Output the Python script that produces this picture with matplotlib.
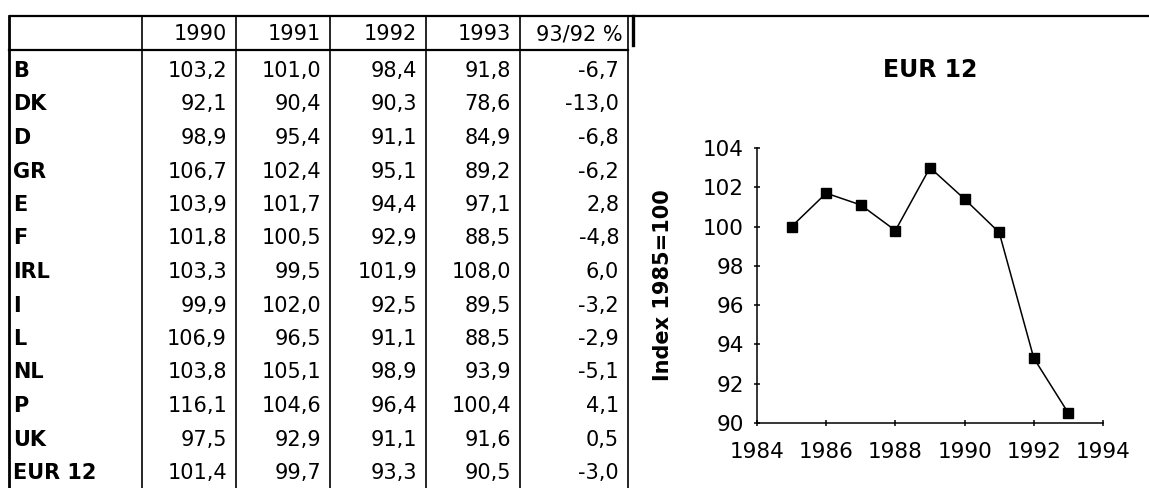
import numpy as np
import matplotlib
matplotlib.use("Agg")
import matplotlib.pyplot as plt

plt.rcParams['font.family'] = ['DejaVu Sans']

# table data
countries = ['B', 'DK', 'D', 'GR', 'E', 'F', 'IRL', 'I', 'L', 'NL', 'P', 'UK', 'EUR 12']
headers = ['1990', '1991', '1992', '1993', '93/92 %']
v1990 = [103.2, 92.1, 98.9, 106.7, 103.9, 101.8, 103.3, 99.9, 106.9, 103.8, 116.1, 97.5, 101.4]
v1991 = [101.0, 90.4, 95.4, 102.4, 101.7, 100.5, 99.5, 102.0, 96.5, 105.1, 104.6, 92.9, 99.7]
v1992 = [98.4, 90.3, 91.1, 95.1, 94.4, 92.9, 101.9, 92.5, 91.1, 98.9, 96.4, 91.1, 93.3]
v1993 = [91.8, 78.6, 84.9, 89.2, 97.1, 88.5, 108.0, 89.5, 88.5, 93.9, 100.4, 91.6, 90.5]
chg = [-6.7, -13.0, -6.8, -6.2, 2.8, -4.8, 6.0, -3.2, -2.9, -5.1, 4.1, 0.5, -3.0]

# chart data (EUR 12, index 1985=100)
years = [1985, 1986, 1987, 1988, 1989, 1990, 1991, 1992, 1993]
eur12 = [100.0, 101.7, 101.1, 99.8, 103.0, 101.4, 99.7, 93.3, 90.5]

W, H = 1149, 488
fig = plt.figure(figsize=(W / 100, H / 100), dpi=100)

# ---- table, drawn in pixel space ----
tab = fig.add_axes([0, 0, 1, 1])
tab.set_xlim(0, W)
tab.set_ylim(H, 0)
tab.axis('off')

col_edges = [9, 142, 236, 330, 426, 520, 628]
top, head_bot = 16, 50
row0, row_h = 69.5, 33.5
fs = 15

tab.plot([col_edges[0], W], [top, top], color='k', lw=1.6, solid_capstyle='butt')
tab.plot([col_edges[0], col_edges[-1]], [head_bot, head_bot], color='k', lw=1.6)
tab.plot([col_edges[0], col_edges[0]], [top, H], color='k', lw=2.0)
for x in col_edges[1:]:
    tab.plot([x, x], [top, H], color='k', lw=1.2)
tab.plot([633, 633], [top, 45], color='k', lw=2.4)

def fmt(v):
    return f"{v:.1f}".replace('.', ',')

for j, h in enumerate(headers):
    gap = 5 if j == len(headers) - 1 else 9
    tab.text(col_edges[j + 2] - gap, 32.5 + 7.5, h, ha='right', va='baseline', fontsize=fs)

cols = [v1990, v1991, v1992, v1993, chg]
for i, c in enumerate(countries):
    y = row0 + i * row_h + 7.5
    tab.text(col_edges[0] + 4, y, c, ha='left', va='baseline', fontsize=fs, fontweight='bold')
    for j, col in enumerate(cols):
        tab.text(col_edges[j + 2] - 9, y, fmt(col[i]), ha='right', va='baseline', fontsize=fs)

# ---- chart ----
ax = fig.add_axes([757 / W, 1 - 423 / H, (1103 - 757) / W, (423 - 148) / H])
ax.plot(years, eur12, color='k', lw=1.1, marker='s', markersize=7)
ax.set_xlim(1984, 1994)
ax.set_ylim(90, 104)
ax.set_xticks(np.arange(1984, 1995, 2))
ax.set_yticks(np.arange(90, 105, 2))
for s in ['top', 'right']:
    ax.spines[s].set_visible(False)
for s in ['left', 'bottom']:
    ax.spines[s].set_linewidth(1.1)
ax.tick_params(axis='both', direction='inout', length=5, width=1.1, labelsize=15.5)
ax.tick_params(axis='y', pad=7)
ax.tick_params(axis='x', pad=11)
ax.set_ylabel('Index 1985=100', fontsize=15, fontweight='bold')
ax.yaxis.set_label_coords((673 - 757) / (1103 - 757), 0.5)
ax.patch.set_alpha(0)

fig.text(930 / W, 1 - 70 / H, 'EUR 12', ha='center', va='center', fontsize=17, fontweight='bold')

fig.savefig('out.png', dpi=100)
